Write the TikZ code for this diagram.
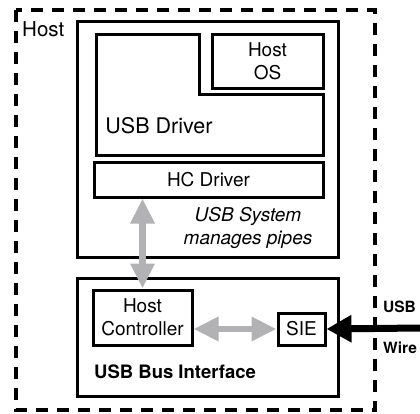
\documentclass[tikz,border=0pt]{standalone}
\usepackage{fontspec}
\setmainfont{TeX Gyre Heros}
\usetikzlibrary{arrows.meta}
\definecolor{pipegray}{RGB}{178,178,180}
\begin{document}
\begin{tikzpicture}[x=1pt,y=-1pt,
  box/.style={draw,line width=3pt,inner sep=0},
  txt/.style={font=\fontsize{19}{23}\selectfont,align=center},
  pipe/.style={pipegray,line width=6.5pt,{Triangle[length=25pt,width=23pt]}-{Triangle[length=25pt,width=23pt]}},
  wire/.style={line width=7pt,-{Triangle[length=25pt,width=26pt]}}]
\useasboundingbox (0,0) rectangle (420,413);
% host boundary
\draw[line width=3.2pt,dash pattern=on 12pt off 9pt] (16,10) rectangle (375,410);
\node[anchor=north west,inner sep=0,font=\fontsize{20.5}{24}\selectfont] (hostlbl) at (22,21.5) {Host};
% usb system
\node[box,minimum width=261pt,minimum height=236pt] (usbsys) at (207.5,139) {};
\draw[line width=3pt] (96,34) -- (199,34) -- (199,94) -- (323,94) -- (323,155) -- (96,155) -- cycle;
\node[txt,font=\fontsize{21.5}{24}\selectfont] (usbdrv) at (159,126) {USB Driver};
\node[box,txt,minimum width=111pt,minimum height=54pt] (hostos) at (267.5,61) {Host\\OS};
\node[box,txt,minimum width=229pt,minimum height=35pt] (hcdrv) at (208.5,179.5) {HC Driver};
\node[txt,font=\itshape\fontsize{19}{23}\selectfont] (pipes) at (248,228) {USB System\\manages pipes};
% bus interface
\node[box,minimum width=261pt,minimum height=118pt] (busif) at (207.5,337) {};
\node[box,txt,minimum width=99pt,minimum height=55pt] (hostctrl) at (142.5,317.5) {Host\\Controller};
\node[box,txt,minimum width=47pt,minimum height=32pt] (sie) at (301.5,329) {SIE};
\node[anchor=west,inner sep=0,font=\bfseries\fontsize{18.5}{22}\selectfont] (busiflbl) at (94,372) {USB Bus Interface};
% wire
\coordinate (wireend) at (420,328);
\node[anchor=west,inner sep=0,font=\bfseries\fontsize{15.5}{18}\selectfont] (usblbl) at (383,307) {USB};
\node[anchor=west,inner sep=0,font=\bfseries\fontsize{15.5}{18}\selectfont] (wirelbl) at (383,347.5) {Wire};
% connectors
\draw[pipe] (hostctrl.north |- hcdrv.south) -- (hostctrl.north);
\draw[pipe] (hostctrl.east |- sie.west) -- (sie.west);
\draw[wire] (wireend) -- (sie.east);
\end{tikzpicture}
\end{document}
